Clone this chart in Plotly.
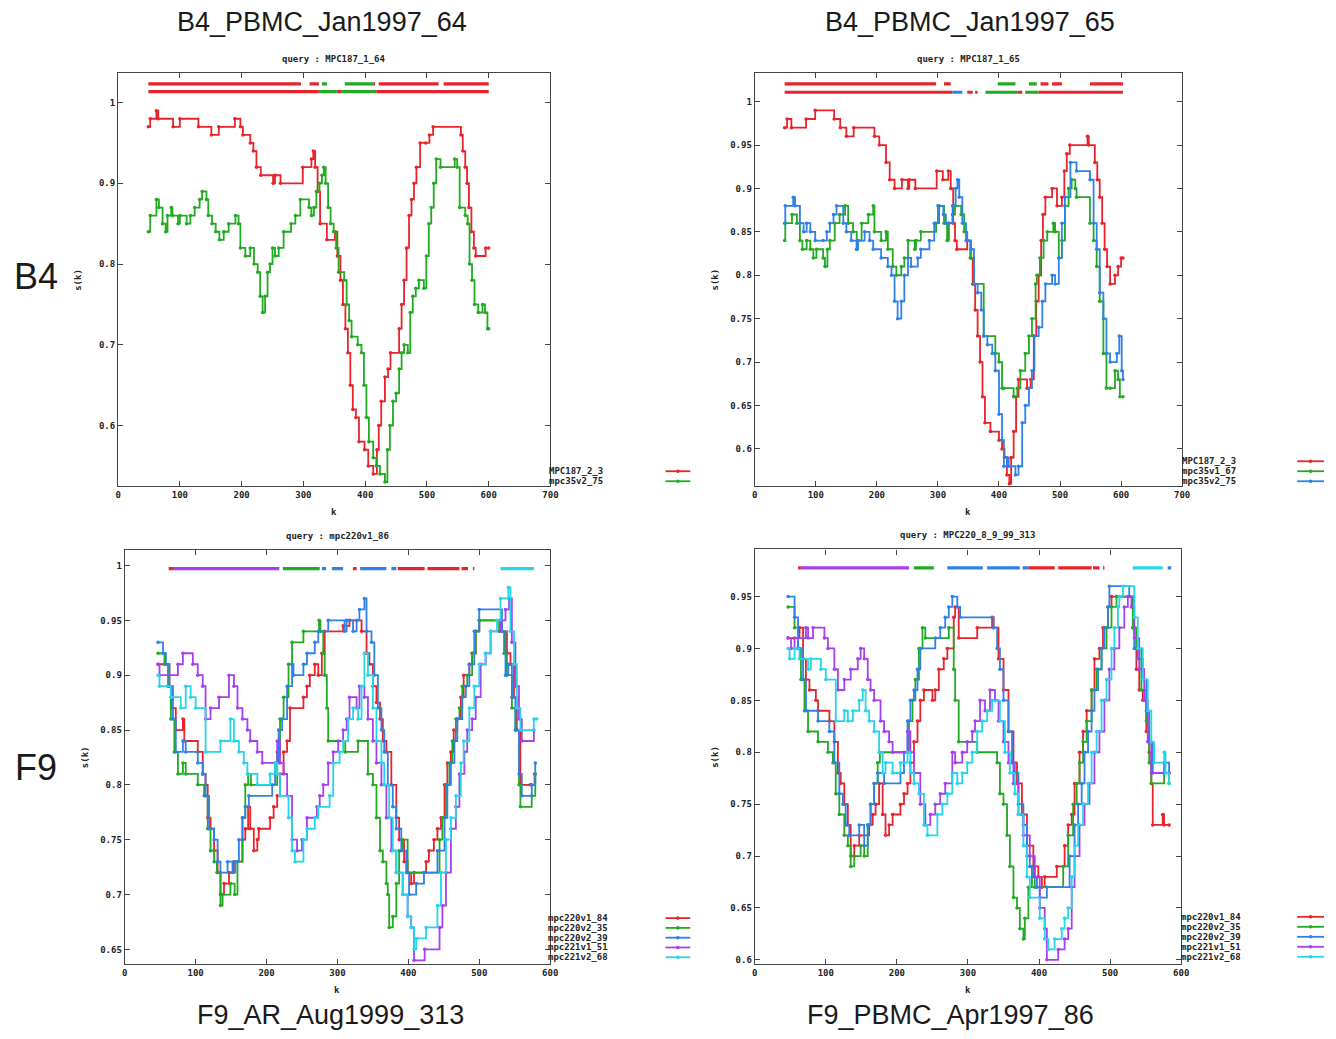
import plotly.graph_objects as go

# page body has an 8px margin; the figure is sized so that page == window
OFF = 8
W, H = 1336 - 2 * OFF, 1039 - 2 * OFF

COLORS = {"red": "#e8232b", "green": "#22aa22", "blue": "#2f80e8",
          "magenta": "#a63ff0", "cyan": "#25d5ea"}

# ---------------- Panel 1 : B4_PBMC_Jan1997_64 ----------------
p1_red = [(49,.97),(52,.98),(62,.99),(65,.98),(89,.97),(100,.98),(130,.97),(151,.96),(163,.97),(189,.98),
          (198,.97),(202,.96),(214,.95),(219,.94),(224,.92),(231,.91),(251,.90),(254,.91),(263,.90),(299,.92),
          (313,.93),(316,.94),(319,.92),(323,.89),(327,.85),(338,.83),(351,.84),(355,.81),(360,.78),(364,.75),
          (368,.72),(372,.69),(376,.65),(380,.62),(385,.61),(390,.58),(399,.57),(405,.55),(413,.54),(419,.57),
          (422,.60),(426,.63),(432,.66),(437,.67),(441,.69),(455,.72),(459,.75),(463,.78),(467,.82),(471,.86),
          (475,.88),(479,.90),(483,.92),(489,.95),(498,.95),(504,.96),(510,.97),(555,.96),(558,.94),(562,.92),
          (565,.90),(568,.87),(572,.84),(576,.82),(579,.81),(595,.82),(600,.82)]
p1_green = [(49,.84),(52,.86),(62,.88),(66,.87),(72,.85),(77,.84),(80,.86),(86,.87),(88,.86),(97,.85),
            (100,.86),(111,.85),(117,.86),(124,.87),(132,.88),(136,.89),(143,.88),(146,.86),(152,.85),(158,.84),
            (164,.83),(171,.84),(179,.85),(190,.86),(195,.85),(198,.82),(206,.81),(214,.82),(220,.80),(226,.79),
            (230,.76),(234,.74),(238,.76),(242,.79),(246,.80),(250,.82),(254,.81),(260,.82),(268,.84),(280,.85),
            (287,.86),(295,.88),(309,.87),(313,.86),(317,.87),(321,.89),(326,.90),(330,.91),(333,.92),(336,.90),
            (340,.87),(344,.85),(349,.84),(353,.82),(357,.79),(366,.78),(370,.75),(374,.73),(378,.71),(388,.70),
            (394,.69),(398,.65),(402,.61),(406,.58),(413,.56),(418,.55),(424,.54),(432,.53),(436,.57),(440,.60),
            (445,.63),(450,.64),(455,.67),(459,.69),(463,.70),(469,.69),(473,.74),(477,.76),(482,.77),(487,.78),
            (495,.77),(499,.81),(503,.85),(507,.87),(511,.90),(515,.93),(522,.92),(545,.93),(549,.92),(553,.87),
            (562,.86),(566,.85),(569,.80),(573,.78),(577,.75),(583,.74),(590,.75),(594,.74),(598,.72),(600,.72)]
p1_bar_top = [(49,296,"red"),(310,325,"red"),(330,338,"green"),(367,413,"green"),(413,416,"red"),
              (422,519,"red"),(527,600,"red")]
p1_bar_bot = [(49,325,"red"),(325,354,"green"),(354,361,"red"),(361,418,"green"),(418,600,"red")]

# ---------------- Panel 2 : B4_PBMC_Jan1997_65 ----------------
p2_red = [(49,.97),(53,.98),(60,.97),(84,.98),(99,.99),(130,.98),(140,.97),(150,.96),(162,.97),(196,.96),
          (204,.95),(215,.93),(221,.91),(229,.90),(241,.91),(251,.90),(253,.91),(263,.90),(298,.92),(308,.91),
          (317,.92),(321,.90),(325,.86),(328,.84),(331,.83),(348,.84),(353,.82),(357,.79),(361,.76),(365,.73),
          (369,.70),(373,.66),(377,.63),(386,.62),(400,.61),(405,.60),(409,.59),(413,.57),(417,.56),(420,.59),
          (424,.62),(428,.66),(432,.68),(446,.67),(452,.68),(457,.73),(461,.77),(465,.80),(469,.84),(472,.87),
          (476,.89),(487,.90),(495,.88),(503,.89),(507,.92),(511,.94),(516,.95),(545,.96),(547,.95),(557,.93),
          (561,.91),(565,.89),(569,.86),(573,.83),(577,.81),(582,.79),(590,.80),(595,.81),(600,.82),(603,.82)]
p2_green = [(49,.84),(50,.86),(61,.87),(69,.86),(74,.84),(78,.83),(85,.84),(91,.83),(96,.82),(101,.83),
            (112,.82),(115,.81),(119,.83),(123,.84),(131,.86),(139,.87),(148,.88),(153,.86),(161,.85),(167,.83),
            (169,.84),(175,.86),(186,.87),(194,.88),(196,.85),(207,.84),(215,.85),(218,.83),(226,.81),(232,.80),
            (240,.81),(245,.82),(251,.84),(262,.83),(264,.84),(272,.85),(297,.86),(302,.88),(310,.86),(315,.84),
            (318,.86),(324,.87),(328,.88),(338,.87),(343,.85),(348,.84),(354,.82),(359,.79),(375,.73),(394,.71),
            (400,.70),(405,.67),(408,.67),(424,.66),(430,.67),(435,.69),(443,.71),(449,.73),(454,.75),(460,.79),
            (462,.80),(467,.82),(473,.84),(479,.85),(489,.86),(492,.85),(498,.82),(503,.84),(508,.88),(514,.90),
            (519,.91),(525,.90),(527,.89),(549,.86),(555,.84),(560,.81),(565,.77),(571,.71),(576,.67),(582,.67),
            (590,.69),(595,.68),(598,.66),(603,.66)]
p2_blue = [(49,.86),(50,.88),(63,.89),(66,.88),(74,.86),(80,.85),(85,.86),(91,.85),(99,.84),(112,.84),
           (118,.85),(123,.86),(129,.87),(134,.88),(145,.86),(150,.85),(158,.84),(167,.83),(169,.84),(180,.85),
           (188,.84),(194,.83),(207,.82),(218,.81),(224,.80),(229,.77),(234,.75),(240,.77),(245,.80),(251,.82),
           (256,.81),(267,.82),(272,.83),(286,.84),(294,.86),(300,.88),(309,.87),(313,.86),(318,.86),(324,.88),
           (329,.90),(332,.91),(335,.89),(340,.86),(346,.84),(354,.83),(359,.79),(365,.78),(371,.76),(375,.73),
           (381,.72),(389,.71),(394,.69),(400,.64),(405,.61),(408,.58),(413,.59),(416,.58),(427,.57),(432,.58),
           (438,.63),(443,.65),(449,.67),(454,.69),(458,.73),(465,.74),(471,.77),(476,.79),(487,.80),(492,.79),
           (498,.82),(503,.86),(508,.89),(517,.93),(527,.92),(549,.91),(555,.86),(560,.83),(565,.78),(571,.75),
           (576,.71),(582,.70),(593,.71),(597,.73),(601,.69),(603,.68)]
p2_bar_top = [(49,297,"red"),(310,321,"red"),(398,427,"green"),(449,462,"green"),(468,481,"red"),
              (487,503,"red"),(549,603,"red")]
p2_bar_bot = [(49,324,"red"),(324,340,"blue"),(348,357,"red"),(361,365,"red"),(378,430,"green"),
              (430,438,"red"),(443,465,"green"),(465,603,"red")]

# ---------------- Panel 3 : F9_AR_Aug1999_313 ----------------
p3_red = [(47,.91),(63,.89),(66,.87),(72,.85),(82,.86),(84,.84),(103,.83),(110,.81),(114,.80),(117,.77),
          (121,.76),(126,.74),(131,.72),(135,.70),(140,.71),(147,.72),(154,.73),(166,.75),(170,.76),(174,.78),
          (177,.76),(182,.74),(187,.75),(189,.76),(205,.77),(210,.78),(215,.79),(219,.81),(224,.83),(229,.84),
          (233,.87),(252,.88),(257,.89),(261,.90),(268,.91),(273,.90),(278,.92),(282,.94),(308,.945),(317,.95),
          (334,.94),(341,.92),(345,.91),(350,.89),(355,.875),(360,.86),(364,.84),(369,.83),(376,.80),(383,.77),
          (387,.75),(394,.73),(399,.72),(404,.71),(408,.72),(425,.73),(429,.74),(436,.75),(441,.76),(446,.77),
          (451,.80),(455,.82),(460,.83),(464,.85),(469,.86),(474,.88),(478,.90),(486,.91),(490,.92),(495,.94),
          (500,.95),(532,.94),(539,.92),(544,.91),(549,.88),(553,.85),(558,.80),(572,.80),(578,.81)]
p3_green = [(47,.92),(56,.91),(61,.89),(65,.86),(70,.83),(75,.81),(82,.82),(86,.81),(103,.80),(112,.79),
            (117,.76),(121,.74),(126,.73),(130,.72),(135,.69),(138,.70),(149,.71),(155,.70),(159,.73),(166,.77),
            (170,.80),(174,.81),(178,.80),(215,.83),(219,.86),(224,.88),(231,.91),(236,.93),(252,.94),(274,.95),
            (276,.94),(280,.92),(282,.90),(285,.87),(287,.84),(311,.83),(329,.84),(343,.81),(350,.80),(355,.77),
            (360,.74),(364,.73),(369,.71),(371,.70),(373,.67),(378,.68),(383,.71),(387,.74),(392,.75),(399,.72),
            (444,.75),(448,.77),(453,.80),(458,.82),(462,.84),(467,.86),(472,.87),(476,.89),(483,.90),(490,.92),
            (495,.94),(500,.95),(528,.94),(535,.92),(539,.90),(546,.87),(551,.85),(556,.80),(558,.78),(574,.79),
            (579,.81)]
p3_blue = [(47,.93),(54,.92),(58,.91),(63,.89),(68,.86),(72,.83),(82,.84),(86,.83),(103,.82),(110,.81),
           (114,.79),(119,.76),(126,.75),(131,.73),(135,.72),(145,.73),(152,.72),(156,.73),(161,.75),(166,.77),
           (170,.78),(175,.79),(208,.80),(212,.82),(217,.85),(222,.86),(229,.89),(236,.91),(238,.90),(252,.91),
           (257,.92),(268,.93),(273,.94),(287,.95),(310,.94),(313,.95),(322,.94),(327,.95),(331,.96),(338,.97),
           (341,.94),(348,.93),(352,.90),(357,.87),(362,.85),(366,.83),(371,.80),(378,.78),(383,.76),(390,.74),
           (397,.72),(401,.70),(411,.71),(422,.72),(441,.74),(451,.77),(455,.80),(460,.82),(465,.84),(469,.86),
           (476,.88),(481,.89),(486,.91),(493,.94),(500,.96),(532,.94),(537,.90),(541,.91),(546,.88),(551,.85),
           (556,.81),(560,.79),(574,.80),(579,.82)]
p3_magenta = [(47,.91),(49,.90),(75,.91),(82,.92),(96,.91),(103,.90),(110,.89),(114,.86),(121,.87),(133,.88),
              (147,.90),(154,.89),(159,.87),(166,.86),(173,.85),(177,.84),(187,.83),(194,.82),(215,.84),(219,.82),
              (224,.81),(229,.79),(236,.75),(243,.74),(250,.75),(257,.77),(271,.78),(275,.79),(280,.80),(287,.82),
              (294,.83),(301,.84),(308,.85),(313,.86),(317,.88),(327,.87),(331,.89),(338,.88),(343,.86),(350,.84),
              (355,.82),(362,.80),(369,.77),(376,.74),(383,.72),(392,.70),(399,.68),(404,.67),(408,.64),(423,.65),
              (444,.67),(448,.69),(453,.72),(460,.76),(467,.78),(472,.81),(479,.83),(483,.85),(490,.86),(495,.88),
              (502,.91),(509,.92),(516,.94),(530,.95),(537,.96),(542,.97),(546,.93),(551,.89),(556,.86),(560,.84),
              (577,.85)]
p3_cyan = [(47,.90),(49,.89),(65,.88),(79,.87),(86,.89),(93,.88),(100,.87),(114,.83),(135,.84),(149,.86),
           (154,.84),(161,.83),(168,.82),(173,.81),(187,.80),(205,.81),(212,.82),(215,.81),(219,.79),(231,.77),
           (236,.74),(240,.73),(252,.75),(257,.76),(268,.77),(273,.78),(289,.79),(294,.82),(303,.83),(308,.84),
           (315,.86),(322,.87),(329,.86),(334,.89),(338,.92),(343,.90),(350,.87),(355,.84),(362,.82),(366,.80),
           (373,.77),(378,.74),(383,.72),(392,.70),(399,.68),(404,.67),(408,.65),(411,.66),(425,.67),(441,.69),
           (446,.72),(453,.75),(460,.77),(467,.79),(474,.82),(478,.84),(486,.87),(493,.89),(500,.91),(509,.92),
           (516,.94),(525,.95),(530,.97),(541,.98),(544,.94),(549,.91),(553,.87),(558,.85),(577,.86),(581,.86)]
p3_bar = [(62,68,"red"),(68,218,"magenta"),(223,275,"green"),(278,284,"blue"),(292,308,"blue"),
          (322,327,"red"),(332,369,"blue"),(376,383,"blue"),(385,423,"red"),(427,472,"red"),(475,484,"red"),
          (491,493,"red"),(530,577,"cyan")]

# ---------------- Panel 4 : F9_PBMC_Apr1997_86 ----------------
p4_red = [(47,.91),(63,.92),(68,.89),(72,.87),(77,.86),(86,.85),(89,.84),(105,.83),(112,.81),(117,.78),
          (121,.77),(126,.75),(131,.73),(135,.70),(140,.71),(147,.72),(161,.73),(166,.74),(170,.75),(175,.77),
          (180,.74),(184,.72),(189,.73),(194,.74),(205,.75),(210,.76),(215,.77),(219,.79),(224,.81),(229,.83),
          (233,.85),(238,.86),(250,.85),(254,.86),(259,.88),(266,.89),(271,.90),(280,.93),(282,.94),(287,.91),
          (313,.92),(334,.93),(336,.92),(343,.89),(350,.86),(357,.82),(364,.79),(369,.77),(376,.74),(383,.71),
          (392,.69),(399,.68),(404,.67),(408,.68),(425,.69),(436,.71),(441,.73),(446,.74),(450,.77),(457,.80),
          (462,.82),(467,.84),(474,.86),(478,.89),(485,.90),(490,.92),(497,.94),(502,.95),(532,.92),(537,.88),
          (541,.86),(546,.85),(551,.82),(555,.80),(558,.77),(560,.73),(574,.74),(576,.73),(583,.73)]
p4_green = [(47,.94),(56,.92),(61,.90),(65,.87),(70,.84),(75,.82),(89,.81),(103,.80),(110,.79),(114,.76),
            (119,.74),(126,.72),(131,.71),(135,.69),(140,.70),(149,.71),(154,.70),(159,.73),(163,.75),(168,.77),
            (173,.79),(176,.80),(217,.83),(222,.85),(226,.87),(231,.90),(236,.92),(240,.91),(273,.92),(280,.88),
            (282,.85),(287,.81),(313,.80),(341,.79),(345,.76),(350,.75),(355,.72),(359,.69),(364,.66),(369,.65),
            (373,.63),(378,.62),(380,.64),(385,.67),(390,.69),(394,.67),(434,.69),(441,.72),(448,.75),(453,.77),
            (457,.79),(462,.81),(467,.83),(474,.86),(481,.88),(488,.90),(495,.92),(502,.94),(509,.95),(532,.92),
            (537,.90),(544,.86),(551,.83),(555,.79),(558,.77),(576,.78),(583,.77)]
p4_blue = [(47,.95),(56,.93),(61,.90),(68,.87),(72,.84),(89,.83),(105,.82),(112,.79),(119,.76),(124,.75),
           (128,.73),(133,.72),(147,.73),(154,.71),(159,.73),(163,.75),(168,.77),(173,.78),(182,.77),(205,.78),
           (210,.80),(215,.83),(219,.85),(224,.86),(229,.88),(233,.90),(254,.91),(261,.92),(268,.93),(273,.94),
           (278,.95),(285,.94),(289,.93),(336,.92),(341,.90),(345,.88),(350,.85),(357,.82),(362,.79),(366,.78),
           (371,.75),(378,.73),(383,.70),(387,.69),(392,.68),(397,.67),(401,.66),(411,.67),(443,.70),(450,.73),
           (455,.75),(460,.77),(464,.80),(469,.82),(474,.84),(478,.86),(483,.88),(488,.90),(492,.92),(497,.94),
           (499,.96),(527,.95),(534,.90),(539,.89),(546,.87),(551,.84),(555,.81),(560,.78),(576,.79),(583,.78)]
p4_magenta = [(47,.91),(51,.90),(56,.91),(72,.92),(75,.91),(82,.92),(98,.91),(103,.90),(112,.88),(117,.86),
              (126,.87),(135,.88),(145,.89),(149,.90),(154,.89),(159,.87),(163,.86),(168,.85),(177,.83),(182,.82),
              (189,.81),(194,.80),(215,.82),(219,.80),(224,.78),(233,.75),(240,.73),(247,.74),(254,.75),(261,.76),
              (268,.77),(278,.80),(282,.79),(292,.80),(299,.81),(306,.82),(310,.83),(317,.85),(324,.84),(331,.86),
              (338,.85),(343,.83),(350,.81),(357,.79),(364,.77),(371,.74),(378,.72),(387,.70),(394,.68),(401,.65),
              (408,.63),(411,.60),(427,.61),(436,.62),(441,.63),(446,.67),(450,.70),(457,.73),(464,.75),(471,.77),
              (478,.80),(485,.82),(492,.85),(499,.88),(506,.90),(513,.92),(520,.94),(525,.95),(530,.94),(534,.91),
              (541,.88),(548,.85),(553,.81),(558,.78),(583,.78)]
p4_cyan = [(47,.90),(49,.89),(56,.90),(63,.89),(75,.88),(79,.89),(93,.88),(100,.87),(114,.83),(126,.84),
           (131,.83),(138,.84),(147,.85),(152,.86),(156,.84),(161,.83),(168,.82),(175,.80),(180,.78),(184,.79),
           (194,.78),(205,.79),(215,.80),(219,.78),(224,.77),(231,.76),(238,.73),(243,.72),(257,.74),(264,.75),
           (271,.76),(278,.78),(285,.77),(292,.78),(299,.79),(306,.80),(313,.82),(320,.83),(327,.84),(334,.85),
           (345,.83),(352,.80),(359,.78),(366,.76),(371,.74),(378,.71),(383,.68),(387,.66),(401,.64),(408,.62),
           (413,.61),(422,.62),(432,.63),(436,.64),(441,.65),(446,.68),(450,.71),(455,.73),(462,.75),(469,.77),
           (474,.80),(481,.82),(488,.85),(495,.87),(502,.90),(506,.92),(511,.94),(513,.95),(518,.96),(534,.93),
           (539,.90),(546,.87),(553,.84),(558,.81),(562,.79),(576,.80),(578,.78),(583,.77)]
p4_bar = [(61,65,"red"),(65,217,"magenta"),(224,252,"green"),(271,321,"blue"),(327,373,"blue"),
          (377,385,"blue"),(385,422,"red"),(427,474,"red"),(476,485,"red"),(490,492,"red"),
          (532,574,"cyan"),(581,586,"blue")]

panel_titles = ["B4_PBMC_Jan1997_64", "B4_PBMC_Jan1997_65", "F9_AR_Aug1999_313", "F9_PBMC_Apr1997_86"]
row_labels = ["B4", "F9"]
query_titles = ["query : MPC187_1_64", "query : MPC187_1_65", "query : mpc220v1_86", "query : MPC220_8_9_99_313"]

panels = [
    dict(box=(116, 552, 72.7, 486.7), xr=(0, 700), yr=(0.5248, 1.0371), ydt=0.1,
         series=[("MPC187_2_3", "red", p1_red), ("mpc35v2_75", "green", p1_green)],
         bars=[(1.0231, p1_bar_top), (1.0136, p1_bar_bot)],
         leg=(607, 668, 693, 471.7, 10)),
    dict(box=(758, 1189, 72.7, 486.7), xr=(0, 700), yr=(0.5570, 1.0334), ydt=0.05,
         series=[("MPC187_2_3", "red", p2_red), ("mpc35v1_67", "green", p2_green), ("mpc35v2_75", "blue", p2_blue)],
         bars=[(1.0204, p2_bar_top), (1.0108, p2_bar_bot)],
         leg=(1245, 1305, 1332, 461.7, 10)),
    dict(box=(122.7, 551.7, 550.7, 965), xr=(0, 600), yr=(0.6366, 1.0140), ydt=0.05,
         series=[("mpc220v1_84", "red", p3_red), ("mpc220v2_35", "green", p3_green), ("mpc220v2_39", "blue", p3_blue),
                 ("mpc221v1_51", "magenta", p3_magenta), ("mpc221v2_68", "cyan", p3_cyan)],
         bars=[(0.9971, p3_bar)],
         leg=(612, 668, 693, 919, 9.8)),
    dict(box=(758, 1188, 550, 965), xr=(0, 600), yr=(0.5959, 0.9954), ydt=0.05,
         series=[("mpc220v1_84", "red", p4_red), ("mpc220v2_35", "green", p4_green), ("mpc220v2_39", "blue", p4_blue),
                 ("mpc221v1_51", "magenta", p4_magenta), ("mpc221v2_68", "cyan", p4_cyan)],
         bars=[(0.9777, p4_bar)],
         leg=(1250, 1305, 1332, 917.7, 10)),
]


def fx(x):
    return (x - OFF) / W


def fy(y):
    return 1 - (y - OFF) / H


fig = go.Figure()
TICKFONT = dict(family="DejaVu Sans Mono", size=9, color="#222", weight="bold")
SMALLFONT = dict(family="DejaVu Sans Mono", size=9, color="#222", weight="bold")
annotations = []
shapes = []
layout_axes = {}

for i, p in enumerate(panels):
    n = i + 1
    xa = "x" if n == 1 else f"x{n}"
    ya = "y" if n == 1 else f"y{n}"
    x0, x1, y0, y1 = p["box"]
    layout_axes["xaxis" if n == 1 else f"xaxis{n}"] = dict(
        domain=[fx(x0), fx(x1)], range=list(p["xr"]), anchor=ya, tick0=0, dtick=100,
        ticks="inside", ticklen=5, tickwidth=1, tickcolor="#444", mirror="ticks",
        showline=True, linecolor="#444", linewidth=1.2, showgrid=False, zeroline=False,
        tickfont=TICKFONT)
    layout_axes["yaxis" if n == 1 else f"yaxis{n}"] = dict(
        domain=[fy(y1), fy(y0)], range=list(p["yr"]), anchor=xa, tick0=0, dtick=p["ydt"],
        ticks="inside", ticklen=5, tickwidth=1, tickcolor="#444", mirror="ticks",
        showline=True, linecolor="#444", linewidth=1.2, showgrid=False, zeroline=False,
        tickfont=TICKFONT)

    # similarity curves
    for name, col, pts in p["series"]:
        ks = [a for a, b in pts]
        ss = [b for a, b in pts]
        fig.add_trace(go.Scatter(
            x=ks, y=ss, mode="lines+markers", name=name, showlegend=False,
            line=dict(color=COLORS[col], width=1.8, shape="hv"),
            marker=dict(size=3.5, color=COLORS[col]),
            xaxis=xa, yaxis=ya))

    # best-match bars along the top
    for level, segs in p["bars"]:
        for col in COLORS:
            xs, ys = [], []
            for a, b, c in segs:
                if c == col:
                    xs += [a, b, None]
                    ys += [level, level, None]
            if xs:
                fig.add_trace(go.Scatter(
                    x=xs, y=ys, mode="lines", showlegend=False,
                    line=dict(color=COLORS[col], width=3.2),
                    xaxis=xa, yaxis=ya, hoverinfo="skip"))

    # query title, axis labels
    cx = (x0 + x1) / 2
    annotations.append(dict(text=query_titles[i], x=fx(cx), y=fy(y0 - 14), xref="paper", yref="paper",
                            showarrow=False, font=SMALLFONT, xanchor="center", yanchor="middle"))
    annotations.append(dict(text="s(k)", x=fx(x0 - 40), y=fy((y0 + y1) / 2), xref="paper", yref="paper",
                            showarrow=False, font=SMALLFONT, textangle=-90, xanchor="center", yanchor="middle"))
    annotations.append(dict(text="k", x=fx(cx), y=fy(y1 + 26), xref="paper", yref="paper",
                            showarrow=False, font=SMALLFONT, xanchor="center", yanchor="middle"))

    # key
    tx, lx0, lx1, ly, dy = p["leg"]
    for j, (name, col, pts) in enumerate(p["series"]):
        yy = ly + j * dy
        annotations.append(dict(text=name, x=fx(tx), y=fy(yy), xref="paper", yref="paper", showarrow=False,
                                font=SMALLFONT, xanchor="right", yanchor="middle"))
        shapes.append(dict(type="line", xref="paper", yref="paper", x0=fx(lx0), x1=fx(lx1),
                           y0=fy(yy), y1=fy(yy), line=dict(color=COLORS[col], width=1.8)))
        mx = (lx0 + lx1) / 2
        shapes.append(dict(type="circle", xref="paper", yref="paper", x0=fx(mx - 1.8), x1=fx(mx + 1.8),
                           y0=fy(yy + 1.8), y1=fy(yy - 1.8), fillcolor=COLORS[col], line=dict(width=0)))

# big panel titles and row labels
BIGFONT = dict(family="Liberation Sans", size=27, color="#1a1a1a")
title_pos = [(322, 22), (975, 22), (330, 1016), (955, 1016)]
for t, (x, y) in zip(panel_titles, title_pos):
    annotations.append(dict(text=t, x=fx(x), y=fy(y), xref="paper", yref="paper", showarrow=False,
                            font=BIGFONT, xanchor="center", yanchor="middle"))
for t, (x, y) in zip(row_labels, [(33, 277), (33, 768)]):
    annotations.append(dict(text=t, x=fx(x), y=fy(y), xref="paper", yref="paper", showarrow=False,
                            font=dict(family="Liberation Sans", size=36, color="#1a1a1a"),
                            xanchor="center", yanchor="middle"))

fig.update_layout(
    width=W, height=H, autosize=False,
    margin=dict(l=0, r=0, t=0, b=0),
    paper_bgcolor="white", plot_bgcolor="white",
    showlegend=False,
    annotations=annotations, shapes=shapes,
    **layout_axes)

fig.write_html("out.html")
